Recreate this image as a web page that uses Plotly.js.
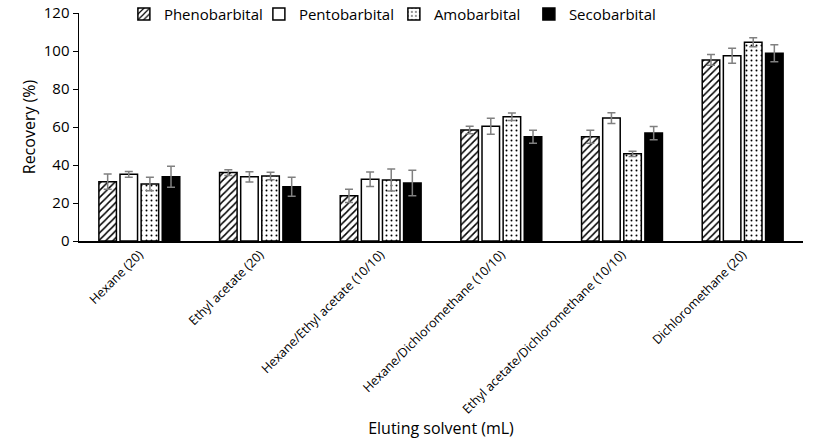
<!DOCTYPE html>
<html>
<head>
<meta charset="utf-8">
<script src="https://cdn.plot.ly/plotly-3.0.1.min.js"></script>
<style>html,body{margin:0;padding:0;background:#fff;}#chart{width:827px;height:448px;}</style>
</head>
<body>
<div id="chart"></div>
<script>
const categories = ["Hexane (20)", "Ethyl acetate (20)", "Hexane/Ethyl acetate (10/10)", "Hexane/Dichloromethane (10/10)", "Ethyl acetate/Dichloromethane (10/10)", "Dichloromethane (20)"];
const seriesNames = ["Phenobarbital", "Pentobarbital", "Amobarbital", "Secobarbital"];
const phenobarbital = [31.2, 36.0, 23.8, 58.4, 54.9, 95.3];
const phenobarbitalErr = [4.0, 1.5, 3.5, 2.0, 3.4, 2.8];
const pentobarbital = [35.1, 33.8, 32.5, 60.4, 64.7, 97.5];
const pentobarbitalErr = [1.5, 2.7, 3.8, 4.2, 2.8, 4.0];
const amobarbital = [30.0, 34.2, 32.1, 65.4, 45.9, 104.6];
const amobarbitalErr = [3.5, 2.0, 5.8, 2.0, 1.4, 2.4];
const secobarbital = [33.8, 28.6, 30.5, 54.9, 56.8, 98.8];
const secobarbitalErr = [5.5, 5.0, 6.7, 3.4, 3.5, 4.5];
const yTicks = [0, 20, 40, 60, 80, 100, 120];

const FONT = "Open Sans, Noto Sans, sans-serif";
const err = arr => ({type: 'data', array: arr, visible: true, color: '#808080', thickness: 1.5, width: 4});
const line = {color: '#000', width: 1.5};

const traces = [
  {type: 'bar', name: seriesNames[0], x: categories, y: phenobarbital, error_y: err(phenobarbitalErr),
   marker: {color: '#fff', line: line, pattern: {shape: '/', fgcolor: '#000', bgcolor: '#fff', size: 5, solidity: 0.3}}},
  {type: 'bar', name: seriesNames[1], x: categories, y: pentobarbital, error_y: err(pentobarbitalErr),
   marker: {color: '#fff', line: line}},
  {type: 'bar', name: seriesNames[2], x: categories, y: amobarbital, error_y: err(amobarbitalErr),
   marker: {color: '#fff', line: line, pattern: {shape: '.', fgcolor: '#000', bgcolor: '#fff', size: 5, solidity: 0.12}}},
  {type: 'bar', name: seriesNames[3], x: categories, y: secobarbital, error_y: err(secobarbitalErr),
   marker: {color: '#000', line: line}}
];

const layout = {
  width: 827, height: 448,
  margin: {l: 79, r: 24, t: 13, b: 207, autoexpand: false},
  paper_bgcolor: '#fff', plot_bgcolor: '#fff',
  font: {family: FONT, color: '#000'},
  barmode: 'group', bargap: 0.3, bargroupgap: 0.17,
  showlegend: true,
  legend: {orientation: 'h', x: 0.062, y: 0.995, xanchor: 'left', yanchor: 'middle',
           font: {size: 15, family: FONT}, bgcolor: 'rgba(0,0,0,0)', entrywidth: 90, entrywidthmode: 'pixels', itemwidth: 30},
  xaxis: {type: 'category', showline: true, linecolor: '#000', linewidth: 1.5, ticks: '', tickangle: -45,
          tickfont: {size: 12.5, family: FONT}, showgrid: false, zeroline: false, automargin: false,
          title: {text: 'Eluting solvent (mL)', font: {size: 16, family: FONT}, standoff: 0}},
  yaxis: {range: [0, 120], tickvals: yTicks, showline: true, linecolor: '#000', linewidth: 1.5,
          ticks: 'outside', ticklen: 5, tickcolor: '#000', showgrid: false, zeroline: false, automargin: false,
          tickfont: {size: 15, family: FONT},
          title: {text: 'Recovery (%)', font: {size: 16, family: FONT}, standoff: 4}}
};

Plotly.newPlot('chart', traces, layout, {displayModeBar: false, staticPlot: true});
</script>
</body>
</html>
